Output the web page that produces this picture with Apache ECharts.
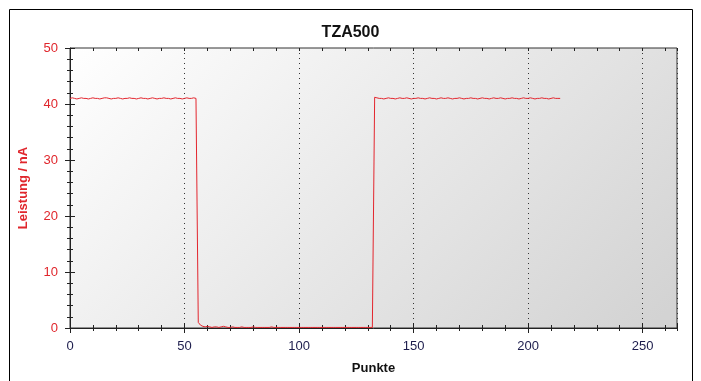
<!DOCTYPE html>
<html>
<head>
<meta charset="utf-8">
<script src="https://cdn.jsdelivr.net/npm/echarts@6/dist/echarts.min.js"></script>
<style>
html,body{margin:0;padding:0;background:#fff;}
#chart{width:701px;height:381px;}
</style>
</head>
<body>
<div id="chart"></div>
<script>
// ---- Data ----
const chartTitle = 'TZA500';
const xName = 'Punkte';
const yName = 'Leistung / nA';
const xTickLabels = [0, 50, 100, 150, 200, 250];
const yTickLabels = [0, 10, 20, 30, 40, 50];
// Punkte 0..55
const levelHighA = [
41.0,41.1,41.0,40.9,41.0,41.1,41.0,41.0,40.9,41.0,
41.1,41.0,41.0,40.9,41.0,41.1,41.1,41.0,40.9,41.0,
41.0,41.1,41.0,40.9,41.0,41.0,41.1,41.0,41.0,40.9,
41.0,41.1,41.0,41.0,40.9,41.0,41.1,41.0,40.9,41.0,
41.0,41.1,41.0,41.0,40.9,41.0,41.1,41.0,41.0,40.9,
41.0,41.1,41.0,41.0,41.1,41.0];
// Punkte 56..132
const levelLow = [
1.0,0.5,0.3,0.2,0.3,0.2,0.1,0.2,0.2,0.1,
0.2,0.3,0.2,0.1,0.1,0.2,0.1,0.1,0.1,0.2,
0.1,0.1,0.1,0.1,0.2,0.1,0.1,0.1,0.1,0.1,
0.1,0.1,0.2,0.1,0.1,0.1,0.1,0.1,0.1,0.1,
0.1,0.1,0.1,0.1,0.1,0.1,0.1,0.1,0.1,0.1,
0.1,0.1,0.1,0.1,0.1,0.1,0.1,0.1,0.1,0.1,
0.1,0.1,0.1,0.1,0.1,0.1,0.1,0.1,0.1,0.1,
0.1,0.1,0.1,0.1,0.1,0.1,0.1];
// Punkte 133..214
const levelHighB = [
41.2,41.1,41.0,41.0,40.9,41.0,41.1,41.0,41.0,40.9,
41.0,41.1,41.0,41.0,41.1,41.0,40.9,41.0,41.0,41.1,
41.0,41.0,40.9,41.0,41.1,41.0,41.0,40.9,41.0,41.1,
41.0,41.0,41.1,41.0,40.9,41.0,41.0,41.1,41.0,40.9,
41.0,41.0,41.1,41.0,41.0,40.9,41.0,41.1,41.0,41.0,
40.9,41.0,41.1,41.0,41.0,41.1,41.0,40.9,41.0,41.0,
41.1,41.0,41.0,40.9,41.0,41.1,41.0,41.0,41.1,41.0,
40.9,41.0,41.0,41.1,41.0,41.0,40.9,41.0,41.1,41.0,
41.0,41.0];

const leistung = levelHighA.concat(levelLow, levelHighB);
const seriesData = leistung.map((v, i) => [i, v]);

const FONT = '"Liberation Sans", Arial, sans-serif';
const RED = '#e0262c';
const AXIS = '#222';

function xAx(extra) {
  return Object.assign({
    type: 'value', min: 0, max: 265, position: 'bottom', gridIndex: 0,
    axisLine: { show: false, onZero: false },
    axisLabel: { show: false },
    axisTick: { show: false },
    splitLine: { show: false }
  }, extra);
}
function yAx(extra) {
  return Object.assign({
    type: 'value', min: 0, max: 50, position: 'left', gridIndex: 0,
    axisLine: { show: false, onZero: false },
    axisLabel: { show: false },
    axisTick: { show: false },
    splitLine: { show: false }
  }, extra);
}

const chart = echarts.init(document.getElementById('chart'), null, { renderer: 'canvas' });
chart.setOption({
  animation: false,
  backgroundColor: '#ffffff',
  title: {
    text: chartTitle, left: 'center', top: 20,
    textStyle: { fontFamily: FONT, fontSize: 16, fontWeight: 'bold', color: '#111' }
  },
  graphic: [{
    type: 'rect', silent: true, z: -1,
    shape: { x: 9.5, y: 9.5, width: 683, height: 400 },
    style: { fill: 'none', stroke: '#000', lineWidth: 1 }
  }],
  grid: {
    left: 70, top: 48, right: 24, bottom: 53,
    outerBoundsMode: 'none', containLabel: false,
    show: true, borderColor: '#333', borderWidth: 1,
    backgroundColor: {
      type: 'linear', global: true, x: 70, y: 48, x2: 500, y2: 478,
      colorStops: [{ offset: 0, color: '#ffffff' }, { offset: 1, color: '#d3d3d3' }]
    }
  },
  xAxis: [
    xAx({
      interval: 50,
      name: xName, nameLocation: 'middle', nameGap: 34,
      nameTextStyle: { fontFamily: FONT, fontSize: 13, fontWeight: 'bold', color: '#111' },
      axisLine: { show: true, onZero: false, lineStyle: { color: AXIS, width: 1 } },
      axisTick: { show: true, inside: false, length: 5, lineStyle: { color: AXIS } },
      axisLabel: {
        show: true, margin: 12, showMaxLabel: false,
        fontFamily: FONT, fontSize: 13, color: '#1c1c4c',
        formatter: v => (xTickLabels.indexOf(v) >= 0 ? String(v) : '')
      },
      splitLine: { show: true, lineStyle: { color: '#333', type: [1, 4], width: 1 } }
    }),
    xAx({ interval: 50, axisTick: { show: true, inside: true, length: 5, lineStyle: { color: AXIS } } }),
    xAx({ interval: 10, axisTick: { show: true, inside: false, length: 3, lineStyle: { color: AXIS } } }),
    xAx({ interval: 10, axisTick: { show: true, inside: true, length: 3, lineStyle: { color: AXIS } } }),
    xAx({ interval: 10, position: 'top', axisTick: { show: true, inside: true, length: 3, lineStyle: { color: AXIS } } })
  ],
  yAxis: [
    yAx({
      interval: 10,
      name: yName, nameLocation: 'middle', nameGap: 40,
      nameTextStyle: { fontFamily: FONT, fontSize: 13, fontWeight: 'bold', color: RED },
      axisLine: { show: true, onZero: false, lineStyle: { color: AXIS, width: 1 } },
      axisTick: { show: true, inside: false, length: 5, lineStyle: { color: AXIS } },
      axisLabel: {
        show: true, margin: 12, fontFamily: FONT, fontSize: 13, color: RED,
        formatter: v => (yTickLabels.indexOf(v) >= 0 ? String(v) : '')
      }
    }),
    yAx({ interval: 10, axisTick: { show: true, inside: true, length: 5, lineStyle: { color: AXIS } } }),
    yAx({ interval: 2, axisTick: { show: true, inside: false, length: 3, lineStyle: { color: AXIS } } }),
    yAx({ interval: 2, axisTick: { show: true, inside: true, length: 3, lineStyle: { color: AXIS } } })
  ],
  series: [{
    type: 'line', xAxisIndex: 0, yAxisIndex: 0,
    data: seriesData, showSymbol: false, symbol: 'none',
    lineStyle: { color: '#e3262e', width: 1 },
    z: 5
  }]
});
</script>
</body>
</html>
